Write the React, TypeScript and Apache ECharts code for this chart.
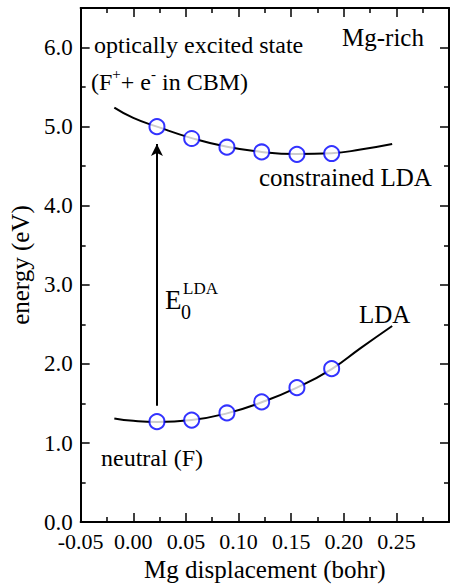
import React, { useEffect, useRef } from "react";
import * as echarts from "echarts";

const FONT = "'Liberation Serif', 'Times New Roman', serif";

// constrained LDA (optically excited state) – computed points
const excitedX = [0.0225, 0.0555, 0.089, 0.122, 0.1555, 0.1885];
const excitedE = [5.0, 4.85, 4.74, 4.68, 4.65, 4.66];
// fitted curve through excited-state points
const excitedCurveX = [-0.018, 0.0, 0.0225, 0.0555, 0.089, 0.122, 0.1555, 0.1885, 0.216, 0.246];
const excitedCurveE = [5.24, 5.11, 5.0, 4.855, 4.745, 4.68, 4.655, 4.665, 4.71, 4.78];

// LDA neutral (F) state
const neutralX = [0.0225, 0.0555, 0.089, 0.122, 0.1555, 0.1885];
const neutralE = [1.27, 1.29, 1.38, 1.52, 1.7, 1.94];
const neutralCurveX = [-0.018, 0.0, 0.0225, 0.0555, 0.089, 0.122, 0.1555, 0.1885, 0.216, 0.246];
const neutralCurveE = [1.31, 1.28, 1.265, 1.29, 1.375, 1.515, 1.7, 1.935, 2.2, 2.48];

// excitation arrow E0^LDA
const arrowX = 0.0225;
const arrowFrom = 1.47;
const arrowTo = 4.78;

const zip = (xs: number[], ys: number[]) => xs.map((x, i) => [x, ys[i]]);

export default function App() {
  const ref = useRef<HTMLDivElement>(null);
  useEffect(() => {
    if (!ref.current) return;
    const chart = echarts.init(ref.current, null, { renderer: "svg" });
    const axisLine = { show: true, onZero: false, lineStyle: { color: "#000", width: 2 } };
    const tickStyle = { show: true, inside: true, length: 9, lineStyle: { color: "#000", width: 1.5 } };
    const minorStyle = { show: true, splitNumber: 2, length: 5, lineStyle: { color: "#000", width: 1.5 } };
    const xBase = { type: "value", min: -0.05, max: 0.3, interval: 0.05, splitLine: { show: false }, axisLine, axisTick: tickStyle, minorTick: minorStyle };
    const yBase = { type: "value", min: 0, max: 6.5, interval: 1, splitLine: { show: false }, axisLine, axisTick: tickStyle, minorTick: minorStyle };
    const circle = {
      type: "scatter",
      symbol: "circle",
      symbolSize: 15,
      itemStyle: { color: "#fff", borderColor: "#0000ff", borderWidth: 2 },
      z: 5,
    };
    const curve = {
      type: "line",
      smooth: true,
      symbol: "none",
      lineStyle: { color: "#000", width: 2 },
      z: 3,
    };
    const txt = (text: string, left: number, top: number, fontSize = 24) => ({
      type: "text",
      left,
      top,
      style: { text, fontFamily: FONT, fontSize, fill: "#000" },
    });
    chart.setOption({
      animation: false,
      textStyle: { fontFamily: FONT },
      grid: { left: 79, top: 8, right: -2, bottom: 54, containLabel: false },
      xAxis: [
        {
          ...xBase,
          position: "bottom",
          name: "Mg displacement (bohr)",
          nameLocation: "middle",
          nameGap: 30,
          nameTextStyle: { fontFamily: FONT, fontSize: 25, color: "#000" },
          axisLabel: {
            fontFamily: FONT,
            fontSize: 22,
            lineHeight: 18,
            color: "#000",
            margin: 10,
            formatter: (v: number) => (v > 0.28 ? "" : v.toFixed(2)),
          },
        },
        { ...xBase, position: "top", axisLabel: { show: false } },
      ],
      yAxis: [
        {
          ...yBase,
          position: "left",
          name: "energy (eV)",
          nameLocation: "middle",
          nameGap: 45,
          nameTextStyle: { fontFamily: FONT, fontSize: 25, color: "#000" },
          axisLabel: {
            fontFamily: FONT,
            fontSize: 23,
            lineHeight: 16,
            color: "#000",
            margin: 8,
            formatter: (v: number) => (v > 6.2 ? "" : v.toFixed(1)),
          },
        },
        { ...yBase, position: "right", axisLabel: { show: false } },
      ],
      series: [
        { ...curve, name: "constrained LDA curve", data: zip(excitedCurveX, excitedCurveE) },
        {
          ...curve,
          name: "LDA curve",
          data: zip(neutralCurveX, neutralCurveE),
          markLine: {
            silent: true,
            symbol: ["none", "arrow"],
            symbolSize: [9, 12],
            label: { show: false },
            lineStyle: { color: "#000", width: 2, type: "solid" },
            data: [[{ coord: [arrowX, arrowFrom] }, { coord: [arrowX, arrowTo] }]],
          },
        },
        { ...circle, name: "constrained LDA", data: zip(excitedX, excitedE) },
        { ...circle, name: "LDA", data: zip(neutralX, neutralE) },
      ],
      graphic: [
        txt("optically excited state", 94, 33),
        {
          type: "text",
          left: 91,
          top: 66,
          style: {
            text: "{m|(F}{s|+}{m|+ e}{s|-}{m| in CBM)}",
            fill: "#000",
            fontFamily: FONT,
            rich: {
              m: { fontFamily: FONT, fontSize: 24, lineHeight: 28, verticalAlign: "bottom" },
              s: { fontFamily: FONT, fontSize: 15, lineHeight: 28, verticalAlign: "top", padding: [0, 0, 12, 0] },
            },
          },
        },
        txt("Mg-rich", 342, 25, 25),
        txt("constrained LDA", 259, 165, 25),
        txt("LDA", 359, 302, 25),
        txt("neutral (F)", 101, 446),
        txt("E", 165, 286, 27),
        txt("0", 181, 302, 20),
        txt("LDA", 183, 280, 17),
      ],
    });
    return () => chart.dispose();
  }, []);
  return <div ref={ref} style={{ position: "fixed", left: 0, top: 0, width: 452, height: 587, background: "#fff" }} />;
}
